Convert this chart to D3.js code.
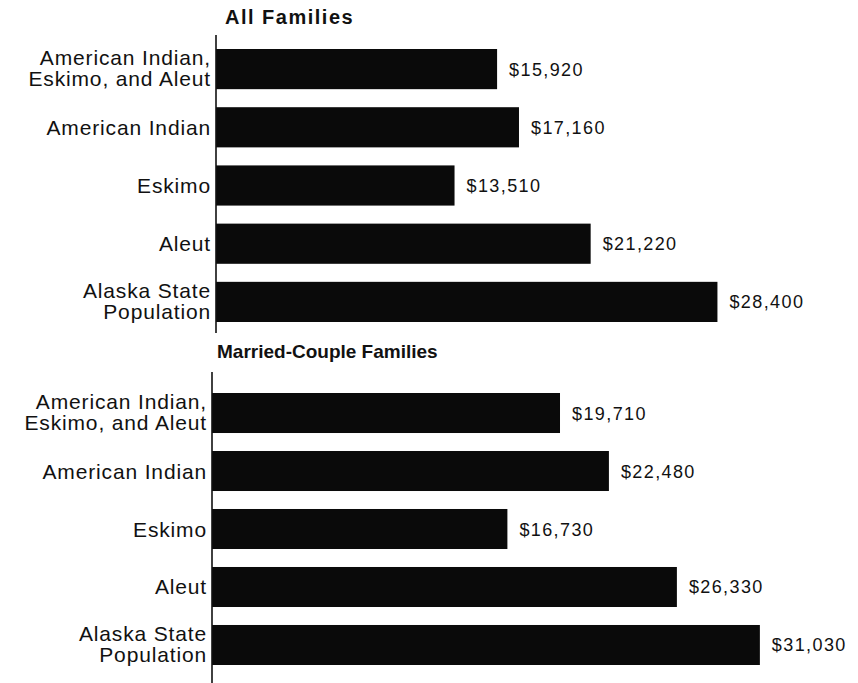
<!DOCTYPE html>
<html>
<head>
<meta charset="utf-8">
<script src="https://cdn.jsdelivr.net/npm/d3@7"></script>
<style>
  body { margin: 0; background: #fff; }
  svg { display: block; }
  text { font-family: "Liberation Sans", Arial, sans-serif; fill: #111; }
</style>
</head>
<body>
<svg id="chart" width="858" height="683"></svg>
<script>
const categories = [
  ["American Indian,", "Eskimo, and Aleut"],
  ["American Indian"],
  ["Eskimo"],
  ["Aleut"],
  ["Alaska State", "Population"]
];
const allFamilies = [15920, 17160, 13510, 21220, 28400];
const marriedCouple = [19710, 22480, 16730, 26330, 31030];
const panelTitles = ["All Families", "Married-Couple Families"];

const X_MAX = 32000;
const X_SPAN = 565;

const svg = d3.select("#chart");

// each panel: axis position, vertical extent of bars and axis line
const panels = [
  { title: panelTitles[0], values: allFamilies, x0: 216, barTop: 49, barBottom: 322,
    axisTop: 35, axisBottom: 333, titleX: 225, titleY: 24, titleSize: 20, titleSpacing: 1.5 },
  { title: panelTitles[1], values: marriedCouple, x0: 212, barTop: 393, barBottom: 665,
    axisTop: 372, axisBottom: 683, titleX: 217, titleY: 358, titleSize: 19, titleSpacing: 0 }
];

const fmt = d => "$" + d3.format(",")(d);

panels.forEach(p => {
  const g = svg.append("g");
  const x = d3.scaleLinear().domain([0, X_MAX]).range([p.x0, p.x0 + X_SPAN]);
  const y = d3.scaleBand()
    .domain(d3.range(categories.length))
    .range([p.barTop, p.barBottom])
    .paddingInner(0.31)
    .paddingOuter(0);

  g.append("text")
    .attr("x", p.titleX)
    .attr("y", p.titleY)
    .attr("font-size", p.titleSize)
    .attr("font-weight", "bold")
    .attr("letter-spacing", p.titleSpacing)
    .text(p.title);

  // bars
  g.selectAll("rect")
    .data(p.values)
    .join("rect")
    .attr("x", x(0))
    .attr("y", (d, i) => y(i))
    .attr("width", d => x(d) - x(0))
    .attr("height", y.bandwidth())
    .attr("fill", "#0a0a0a");

  // axis line
  g.append("line")
    .attr("x1", x(0)).attr("x2", x(0))
    .attr("y1", p.axisTop).attr("y2", p.axisBottom)
    .attr("stroke", "#111")
    .attr("stroke-width", 1.6);

  // category labels
  g.selectAll("text.cat")
    .data(categories)
    .join("text")
    .attr("class", "cat")
    .attr("text-anchor", "end")
    .attr("font-size", 21)
    .attr("letter-spacing", 0.85)
    .each(function (lines, i) {
      const cy = y(i) + y.bandwidth() / 2;
      const base = lines.length === 1 ? [cy + 7.5] : [cy - 4, cy + 17];
      d3.select(this).selectAll("tspan")
        .data(lines)
        .join("tspan")
        .attr("x", x(0) - 5)
        .attr("y", (d, k) => base[k])
        .text(d => d);
    });

  // value labels
  g.selectAll("text.val")
    .data(p.values)
    .join("text")
    .attr("class", "val")
    .attr("x", d => x(d) + 12)
    .attr("y", (d, i) => y(i) + y.bandwidth() / 2 + 6.5)
    .attr("font-size", 18)
    .attr("letter-spacing", 1.4)
    .text(fmt);
});
</script>
</body>
</html>
